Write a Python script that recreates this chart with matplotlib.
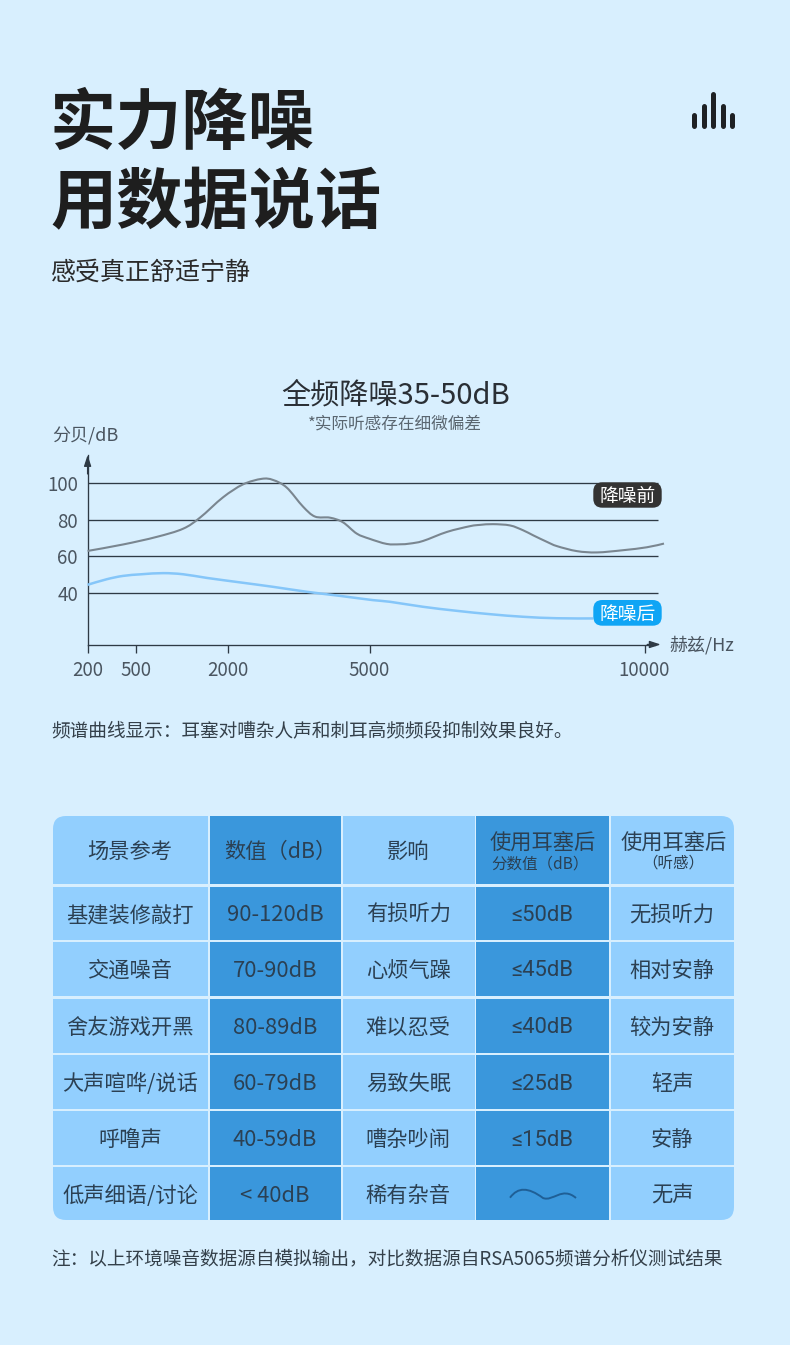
import numpy as np
import matplotlib
matplotlib.use("Agg")
import matplotlib.pyplot as plt
from matplotlib.patches import FancyBboxPatch, Rectangle, PathPatch
from matplotlib.path import Path

plt.rcParams['font.family'] = ['Noto Sans CJK SC', 'DejaVu Sans']

# ---- chart data ----
before_hz = [200, 422, 843, 1270, 1545, 1919, 2318, 2714, 2954, 3244, 3590, 3844, 4162, 4437, 4729, 5000,
             5313, 5554, 5736, 5973, 6409, 6827, 7009, 7245, 7555, 7791, 7973, 8227, 8409, 8773, 9136, 9609, 10045, 10355]
before_db = [63, 66.5, 70.6, 75, 81, 92, 99, 102, 101.4, 97.3, 87, 81.6, 81, 78.5, 72.4, 69.6,
             66.8, 66.6, 67, 68.4, 73.3, 76.4, 77.1, 77.5, 76.8, 74.2, 71.5, 67.9, 65.6, 62.9, 62.2, 63.4, 65, 67]
after_hz = [200, 320, 422, 600, 946, 1270, 1660, 2254, 2954, 3675, 4375, 5064, 5373, 5973, 6591, 7191, 7791, 8409, 9064]
after_db = [44.7, 47.7, 49.5, 50.4, 51, 50.4, 48.4, 46, 43.6, 40.9, 38.7, 36.4, 35.5, 32.8, 30.6, 28.8, 27.4, 26.6, 26.5]
x_ticks = [200, 500, 2000, 5000, 10000]
y_ticks = [40, 60, 80, 100]

# ---- table data ----
col_1 = ['基建装修敲打', '交通噪音', '舍友游戏开黑', '大声喧哗/说话', '呼噜声', '低声细语/讨论']
col_2 = ['90-120dB', '70-90dB', '80-89dB', '60-79dB', '40-59dB', '< 40dB']
col_3 = ['有损听力', '心烦气躁', '难以忍受', '易致失眠', '嘈杂吵闹', '稀有杂音']
col_4 = ['≤50dB', '≤45dB', '≤40dB', '≤25dB', '≤15dB', '']
col_5 = ['无损听力', '相对安静', '较为安静', '轻声', '安静', '无声']
headers = ['场景参考', '数值（dB）', '影响']
header_shift = [-1, 5, -1]

icon_heights = [14.5, 23.5, 36, 23.5, 14.5]

BG = '#D8EFFE'
TXT = '#2B4053'
W, H = 790, 1345
fig = plt.figure(figsize=(W / 100, H / 100), dpi=100, facecolor=BG)

# ---- chart axes: tick positions on the x axis are not evenly scaled ----
PX_T = np.array([87.6, 135.5, 228.0, 369.5, 644.5, 664.5])
HZ_T = np.array([200.0, 500.0, 2000.0, 5000.0, 10000.0, 10364.0])
def fwd(v):
    return np.interp(v, HZ_T, PX_T)
def inv(v):
    return np.interp(v, PX_T, HZ_T)

def smooth_line(ax, hz, db, **kw):
    """Smooth line through the read points (Bezier segments, as a 'smooth' line style)."""
    px, y = fwd(np.array(hz, float)), np.array(db, float)
    verts, codes = [(hz[0], db[0])], [Path.MOVETO]
    n = len(px)
    for i in range(n - 1):
        p0, p3 = i - 1 if i else 0, i + 2 if i + 2 < n else n - 1
        c1 = (px[i] + (px[i + 1] - px[p0]) / 6, y[i] + (y[i + 1] - y[p0]) / 6)
        c2 = (px[i + 1] - (px[p3] - px[i]) / 6, y[i + 1] - (y[p3] - y[i]) / 6)
        verts += [(inv(c1[0]), c1[1]), (inv(c2[0]), c2[1]), (hz[i + 1], db[i + 1])]
        codes += [Path.CURVE4] * 3
    ax.add_patch(PathPatch(Path(verts, codes), fc='none', clip_on=False, **kw))

ax = fig.add_axes([87.6 / W, 1 - 644.5 / H, (664.5 - 87.6) / W, (644.5 - 455) / H])
ax.set_facecolor('none')
ax.set_xscale('function', functions=(fwd, inv))
ax.set_xlim(200, 10364)
ax.set_ylim(12.4, 114.9)
ax.hlines(y_ticks, 200, inv(658), color='#2E3A45', lw=0.95, zorder=1)
smooth_line(ax, before_hz, before_db, ec='#7A8690', lw=1.5, zorder=3)
smooth_line(ax, after_hz, after_db, ec='#85C6F9', lw=1.8, zorder=3)
for s in ['top', 'right']:
    ax.spines[s].set_visible(False)
for s in ['left', 'bottom']:
    ax.spines[s].set_linewidth(0.95)
    ax.spines[s].set_color('#2E3A45')
ax.spines['bottom'].set_bounds(200, inv(655))
ax.set_xticks(x_ticks)
ax.set_xticklabels([str(t) for t in x_ticks])
ax.xaxis.set_minor_locator(matplotlib.ticker.NullLocator())
ax.set_yticks(y_ticks)
ax.set_yticklabels([str(t) for t in y_ticks])
ax.tick_params(axis='x', length=5.8, width=0.95, color='#2E3A45', labelsize=13.5, labelcolor='#4A5560', pad=5)
ax.tick_params(axis='y', length=0, labelsize=13.5, labelcolor='#4A5560', pad=7)
arrow = dict(arrowstyle='-|>,head_length=0.55,head_width=0.18', color='#2E3A45', lw=0.95,
             shrinkA=0, shrinkB=0, mutation_scale=12)
ax.annotate('', xy=((660.7 - 87.6) / (664.5 - 87.6), 0), xytext=(0.97, 0), xycoords='axes fraction',
            textcoords='axes fraction', arrowprops=arrow, annotation_clip=False)
ax.annotate('', xy=(0, 1), xytext=(0, 0.9), xycoords='axes fraction',
            textcoords='axes fraction', arrowprops=arrow, annotation_clip=False)

# ---- overlay in pixel coordinates: text, labels, table ----
ov = fig.add_axes([0, 0, 1, 1], zorder=5)
ov.set_facecolor('none')
ov.set_xlim(0, W)
ov.set_ylim(H, 0)
ov.axis('off')

ov.text(50, 124, '实力降噪', fontsize=47.7, fontweight='bold', color='#1E1E1E', va='center', ha='left')
ov.text(50, 204, '用数据说话', fontsize=47.7, fontweight='bold', color='#1E1E1E', va='center', ha='left')
ov.text(51, 273, '感受真正舒适宁静', fontsize=18, color='#2A2A2A', va='center', ha='left')

for i, h in enumerate(icon_heights):
    xc = 694.4 + i * 9.5
    ov.plot([xc, xc], [127.7 - h + 1.8, 125.9], color='#1E2124', lw=3.6, solid_capstyle='round')

ov.text(396, 396, '全频降噪35-50dB', fontsize=21, color='#2A2F35', va='center', ha='center')
ov.text(395, 424, '*实际听感存在细微偏差', fontsize=12, color='#5A6670', va='center', ha='center')
ov.text(52, 436, '分贝/dB', fontsize=13, color='#4A5560', va='center', ha='left')
ov.text(669, 645, '赫兹/Hz', fontsize=13, color='#4A5560', va='center', ha='left')

def pill(x0, y0, x1, y1, color, label):
    ov.add_patch(FancyBboxPatch((x0, y0), x1 - x0, y1 - y0, boxstyle='round,pad=0,rounding_size=9',
                                fc=color, ec='none', zorder=4))
    ov.text((x0 + x1) / 2, (y0 + y1) / 2 + 1.5, label, fontsize=13.5, color='white', ha='center', va='center', zorder=5)

pill(593.3, 482.3, 661.7, 507.7, '#333333', '降噪前')
pill(593.3, 600, 661.7, 625.7, '#0FA5F5', '降噪后')

ov.text(51, 731, '频谱曲线显示：耳塞对嘈杂人声和刺耳高频频段抑制效果良好。', fontsize=13.45, color='#34404A', va='center', ha='left')
ov.text(51, 1259, '注：以上环境噪音数据源自模拟输出，对比数据源自RSA5065频谱分析仪测试结果', fontsize=13.45, color='#34404A', va='center', ha='left')

# ---- table ----
LIGHT, DARK = '#92CFFE', '#3A97DC'
col_edges = [(53, 208), (210, 341), (343, 474.5), (476, 609), (611, 734)]
row_edges = [(816, 884), (886.5, 940), (942, 996), (998.5, 1052.5), (1055, 1109), (1111, 1165), (1167, 1220)]
col_fill = [LIGHT, DARK, LIGHT, DARK, LIGHT]
columns = [col_1, col_2, col_3, col_4, col_5]
col_font = [15.3, 15.8, 15.3, 15.8, 15.3]
col_family = [None, None, None, ['Roboto', 'DejaVu Sans'], None]

clip = FancyBboxPatch((53, 816), 681, 404, boxstyle='round,pad=0,rounding_size=13', fc='none', ec='none')
ov.add_patch(clip)
for (x0, x1), fill in zip(col_edges, col_fill):
    for (y0, y1) in row_edges:
        r = Rectangle((x0, y0), x1 - x0, y1 - y0, fc=fill, ec='none', zorder=1)
        ov.add_patch(r)
        r.set_clip_path(clip)

def cx(i):
    return sum(col_edges[i]) / 2

for i, label in enumerate(headers):
    ov.text(cx(i) + header_shift[i], 852, label, fontsize=15.3, color=TXT, ha='center', va='center', zorder=3)
ov.text(cx(3), 843, '使用耳塞后', fontsize=15.3, color=TXT, ha='center', va='center', zorder=3)
ov.text(cx(3) - 2, 864, '分数值（dB）', fontsize=11.2, color=TXT, ha='center', va='center', zorder=3)
ov.text(cx(4) + 1, 843, '使用耳塞后', fontsize=15.3, color=TXT, ha='center', va='center', zorder=3)
ov.text(cx(4) + 1, 863, '（听感）', fontsize=11.2, color=TXT, ha='center', va='center', zorder=3)

for i, col in enumerate(columns):
    for (y0, y1), label in zip(row_edges[1:], col):
        if label:
            kw = {'family': col_family[i]} if col_family[i] else {}
            ov.text(cx(i) - 0.5, (y0 + y1) / 2 + 2, label, fontsize=col_font[i], color=TXT,
                    ha='center', va='center', zorder=3, **kw)

wave = Path([(510, 1197.7), (518, 1187), (528, 1187), (543, 1198),
             (553, 1202), (562, 1186), (576, 1198)],
            [Path.MOVETO, Path.CURVE4, Path.CURVE4, Path.CURVE4, Path.CURVE4, Path.CURVE4, Path.CURVE4])
ov.add_patch(PathPatch(wave, fc='none', ec='#1F5F96', lw=1.4, zorder=3))

fig.savefig('out.png', dpi=100, facecolor=BG)
